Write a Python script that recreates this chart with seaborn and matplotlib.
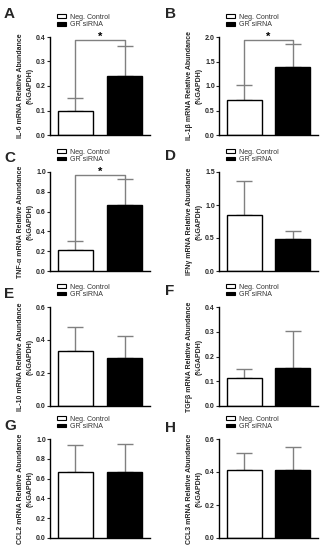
import matplotlib
matplotlib.use("Agg")
import matplotlib.pyplot as plt
import seaborn as sns
import pandas as pd
from matplotlib.patches import Patch

# groups
groups = ["Neg. Control", "GR siRNA"]
bar_colors = ["white", "black"]

# panels
letters = ["A", "B", "C", "D", "E", "F", "G", "H"]
genes = ["IL-6", "IL-1β", "TNF-α", "IFNγ", "IL-10", "TGFβ", "CCL2", "CCL3"]

# mean values (Neg. Control, GR siRNA)
il6_mean = [0.097, 0.24]
il1b_mean = [0.72, 1.38]
tnfa_mean = [0.215, 0.665]
ifng_mean = [0.85, 0.48]
il10_mean = [0.335, 0.288]
tgfb_mean = [0.112, 0.155]
ccl2_mean = [0.67, 0.665]
ccl3_mean = [0.415, 0.415]

# upper error bars
il6_err = [0.054, 0.124]
il1b_err = [0.30, 0.47]
tnfa_err = [0.085, 0.26]
ifng_err = [0.52, 0.13]
il10_err = [0.142, 0.138]
tgfb_err = [0.038, 0.147]
ccl2_err = [0.265, 0.28]
ccl3_err = [0.10, 0.135]

# y axis max and tick step
y_max = [0.4, 2.0, 1.0, 1.5, 0.6, 0.4, 1.0, 0.6]
y_step = [0.1, 0.5, 0.2, 0.5, 0.2, 0.1, 0.2, 0.2]

# significant panels
significant = [True, True, True, False, False, False, False, False]

means = [il6_mean, il1b_mean, tnfa_mean, ifng_mean, il10_mean, tgfb_mean, ccl2_mean, ccl3_mean]
errs = [il6_err, il1b_err, tnfa_err, ifng_err, il10_err, tgfb_err, ccl2_err, ccl3_err]

sns.set_style("ticks")
plt.rcParams['font.family'] = ['Liberation Sans', 'DejaVu Sans']

W, H = 325, 550
fig = plt.figure(figsize=(W / 100, H / 100), dpi=100)

# axes boxes in pixels: left, top, right, bottom
col_x = [(50, 150), (219, 318)]
row_y = [(37, 135), (172, 271), (307, 406), (439, 538)]
letter_pos = [(4, 18), (165, 18), (4, 162), (165, 160), (4, 298), (165, 295), (4, 430), (165, 432)]

pal = dict(zip(groups, bar_colors))

for i in range(8):
    r, c = divmod(i, 2)
    x0, x1 = col_x[c]
    t, b = row_y[r]
    ax = fig.add_axes([x0 / W, 1 - b / H, (x1 - x0) / W, (b - t) / H])

    df = pd.DataFrame({"group": groups, "value": means[i]})
    sns.barplot(data=df, x="group", y="value", hue="group", palette=pal,
                order=groups, hue_order=groups, edgecolor="black", linewidth=1,
                width=0.73, errorbar=None, legend=False, ax=ax, zorder=2)
    ax.errorbar([0, 1], means[i], yerr=[[0, 0], errs[i]], fmt="none",
                ecolor="#808080", elinewidth=1, capsize=5.5, capthick=1, zorder=1)

    ax.set_xlim(-0.52, 1.52)
    ax.set_ylim(0, y_max[i])
    n = int(round(y_max[i] / y_step[i]))
    ticks = [k * y_step[i] for k in range(n + 1)]
    ax.set_yticks(ticks)
    ax.set_yticklabels([f"{v:.1f}" for v in ticks], fontsize=5, fontweight="bold")
    ax.tick_params(axis="y", length=2, width=0.8, pad=1)
    ax.set_xticks([])
    ax.set_xlabel("")
    ax.set_ylabel(f"{genes[i]} mRNA Relative Abundance\n(%GAPDH)", fontsize=5,
                  fontweight="bold", labelpad=2, linespacing=1.4)
    for s in ["left", "bottom"]:
        ax.spines[s].set_linewidth(1)
        ax.spines[s].set_color("black")
    sns.despine(ax=ax)

    handles = [Patch(facecolor=col, edgecolor="black", linewidth=0.8) for col in bar_colors]
    leg = ax.legend(handles, groups, loc="lower left", bbox_to_anchor=(0.07, 1.09),
                    frameon=False, fontsize=5, handlelength=1.3, handleheight=0.45,
                    labelspacing=0.05, handletextpad=0.6, borderpad=0, borderaxespad=0)
    for txt in leg.get_texts():
        txt.set_color("#333333")

    if significant[i]:
        yb = y_max[i] * 0.97
        tops = [m + e for m, e in zip(means[i], errs[i])]
        ax.plot([0, 0, 1, 1], [tops[0], yb, yb, tops[1]], color="#808080", lw=1,
                clip_on=False, zorder=1)
        ax.annotate("*", xy=(0.5, yb), xytext=(0, -1.5), textcoords="offset points",
                    ha="center", va="bottom", fontsize=8, fontweight="bold",
                    color="black", annotation_clip=False)

    lx, ly = letter_pos[i]
    fig.text(lx / W, 1 - ly / H, letters[i], fontsize=11, fontweight="bold", ha="left", va="baseline")

fig.savefig("out.png", dpi=100)
